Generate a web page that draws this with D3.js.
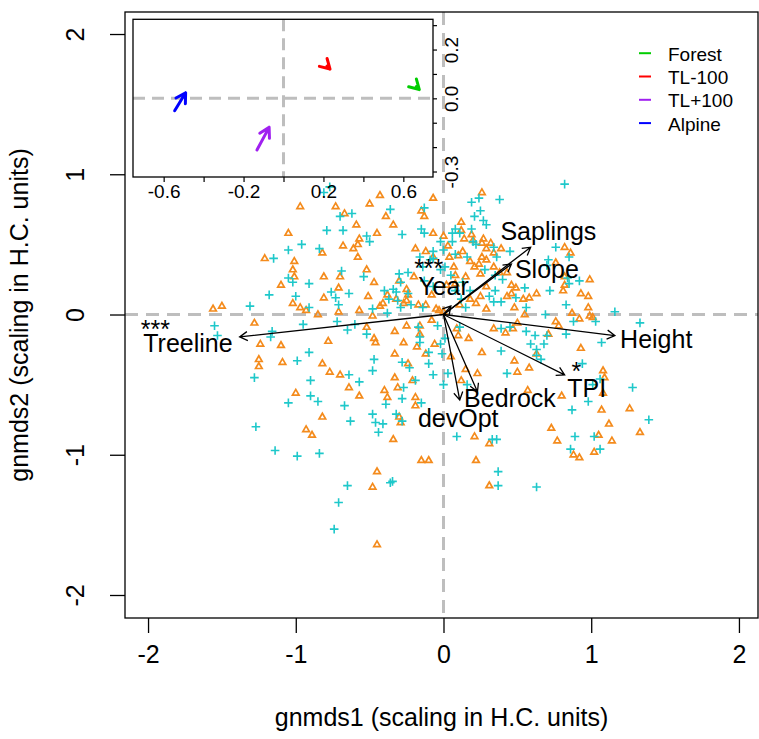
<!DOCTYPE html>
<html>
<head>
<meta charset="utf-8">
<script src="https://cdn.jsdelivr.net/npm/d3@7"></script>
<style>
  body { margin: 0; background: #fff; }
  svg text { font-family: "Liberation Sans", Arial, sans-serif; }
</style>
</head>
<body>
<svg id="chart"></svg>
<script>
let w = 759;
let h = 739;

// site scores drawn as "+"
let crossPts = [
  [-0.77,0.91],[-0.81,0.87],[-0.62,0.72],[-0.36,0.75],[-0.13,0.76],[-0.70,0.70],[-0.79,0.60],[-0.68,0.60],[-0.28,0.57],[-0.52,0.56],
  [-0.50,0.52],[-0.96,0.50],[-1.05,0.46],[-0.84,0.47],[-1.15,0.40],[-0.07,0.45],[-1.05,0.26],[-1.02,0.23],[-0.91,0.22],[-0.54,0.27],
  [-0.69,0.31],[-0.30,0.29],[-0.24,0.30],[-0.76,0.16],[-0.73,0.12],[-0.64,0.15],[-0.34,0.18],[-0.32,0.16],[-1.18,0.14],[-1.00,0.13],
  [-0.91,0.05],[-1.31,0.06],[-0.71,0.07],[-0.48,0.04],[-0.37,0.11],[-0.38,0.01],[-0.22,0.07],[-0.31,0.10],[-0.72,-0.05],[-0.65,-0.11],
  [-0.60,-0.07],[-0.52,-0.14],[-0.17,-0.09],[-0.95,-0.07],[-1.55,-0.08],[-1.53,-0.15],[-1.16,-0.12],[-1.17,-0.16],[-0.16,-0.20],[-0.02,-0.21],
  [-0.91,-0.27],[-0.99,-0.33],[-0.47,-0.32],[-0.28,-0.34],[-0.10,-0.35],[-0.01,-0.28],[-0.64,-0.43],[-0.48,-0.40],[-0.23,-0.38],[-1.28,-0.45],
  [-0.90,-0.47],[-0.57,-0.48],[-0.19,-0.47],[-0.07,-0.43],[-0.90,-0.58],[-0.85,-0.62],[-1.05,-0.63],[-0.27,-0.52],[-0.28,-0.60],[-0.15,-0.63],
  [-0.39,-0.64],[-0.67,-0.65],[-0.63,-0.76],[-0.48,-0.71],[-0.46,-0.77],[-0.41,-0.78],[-0.32,-0.71],[-0.28,-0.76],[-1.27,-0.80],[-0.44,-0.84],
  [-1.14,-0.97],[-0.99,-1.01],[-0.84,-0.99],[-0.65,-1.22],[-0.36,-1.20],[-0.345,-1.19],[-0.71,-1.34],[-0.74,-1.53],
  [-0.04,-0.08],[0.11,-0.09],[-0.16,-0.16],[0.01,-0.17],[-0.10,-0.27],[0.03,-0.42],[0.00,-0.50],[0.16,-0.50],[0.09,-0.87],[0.33,-0.89],
  [0.36,-0.89],[0.39,-0.26],[0.43,-0.42],[0.63,-0.25],[0.39,-0.10],[0.56,-0.12],[0.62,-0.15],[0.70,-0.15],[0.66,-0.32],
  [1.01,-0.50],[0.98,-0.62],[1.28,-0.52],[0.87,-0.68],[1.39,-0.75],[0.89,-0.87],[1.02,-0.87],[0.86,-0.96],[1.06,-0.96],[0.37,-1.12],
  [0.37,-1.22],[0.63,-1.23],
  [0.82,0.93],[0.38,0.82],[0.19,0.80],[0.25,0.74],[0.21,0.70],[0.27,0.67],[0.08,0.61],[0.11,0.58],[0.20,0.52],[0.06,0.52],
  [0.45,0.45],[0.76,0.48],[0.85,0.41],[0.71,0.39],[0.70,0.35],[0.92,0.24],[0.84,0.26],[0.85,0.22],[0.72,0.17],[0.83,0.07],
  [1.03,-0.05],[1.16,0.02],[1.33,-0.06],[0.69,0.00],[0.83,-0.14],[1.07,-0.20],[0.94,-0.35],[0.68,-0.21],[0.45,-0.09],[0.59,-0.21],
  [0.63,-0.29],[1.06,-0.46],[0.88,-0.05],
  [0.24,0.83],[0.29,0.64],[0.06,0.58],[0.19,0.61],[-0.15,0.61],[-0.13,0.58],[-0.02,0.52],[0.00,0.46],[0.22,0.50],[0.34,0.48],
  [0.36,0.41],[0.16,0.41],[0.08,0.43],[-0.07,0.40],[0.01,0.34],[0.05,0.28],[0.13,0.23],[0.28,0.32],[0.35,0.28],[0.40,0.25],
  [0.49,0.12],[0.55,0.19],[0.35,0.17],[0.31,0.13],[0.18,0.17],[0.12,0.11],[0.15,0.05],[0.08,0.17],[0.39,0.09],[0.34,0.09],
  [0.56,0.05],[-0.40,0.17],[-0.29,0.05],[-0.14,0.05],[-0.16,0.41],[-0.09,0.39],[-0.14,0.34],[-0.02,0.32],[-0.13,0.24],[-0.07,0.20],
  [-0.24,0.15],[-0.29,0.23]
];

// site scores drawn as triangles
let triPts = [
  [-0.43,0.85],[-0.07,0.83],[-0.97,0.77],[-0.73,0.77],[-0.50,0.79],[-0.67,0.72],[-0.39,0.70],[-0.15,0.74],[-0.13,0.70],[-0.34,0.64],
  [-0.59,0.64],[-0.45,0.58],[-1.05,0.58],[-0.57,0.54],[-0.58,0.50],[-0.82,0.44],[-0.68,0.49],[-0.61,0.47],[-0.58,0.41],[-1.21,0.40],
  [-1.01,0.38],[-0.19,0.47],[-0.12,0.45],[-0.07,0.41],[-1.02,0.32],[-1.01,0.27],[-1.10,0.21],[-0.81,0.27],[-0.70,0.27],[-0.52,0.32],
  [-0.47,0.23],[-0.30,0.24],[-0.71,0.19],[-0.81,0.12],[-0.51,0.13],[-0.38,0.14],[-0.25,0.18],[-0.24,0.14],[-1.02,0.08],[-0.97,0.05],
  [-0.93,0.03],[-1.56,0.04],[-1.50,0.06],[-0.71,0.02],[-0.85,0.00],[-0.57,0.03],[-0.43,0.06],[-0.41,0.08],[-0.27,0.08],[-0.17,0.07],
  [-0.48,-0.01],[-0.12,0.07],[-0.05,0.04],[-0.08,-0.04],[-0.52,-0.09],[-0.33,-0.12],[-0.25,-0.08],[-0.16,-0.14],[-1.28,-0.06],[-0.78,-0.19],
  [-0.47,-0.17],[-0.46,-0.20],[-0.27,-0.20],[-0.18,-0.23],[-0.06,-0.21],[-1.24,-0.21],[-1.10,-0.22],[-1.09,-0.34],[-1.25,-0.32],[-1.25,-0.37],
  [-0.82,-0.35],[-0.33,-0.28],[-0.24,-0.35],[-0.12,-0.28],[-0.77,-0.41],[-0.70,-0.43],[-0.64,-0.52],[-0.33,-0.45],[-0.21,-0.47],[-0.31,-0.52],
  [-1.00,-0.56],[-0.57,-0.58],[-0.40,-0.54],[-0.38,-0.59],[-0.19,-0.59],[-0.19,-0.65],[-0.82,-0.73],[-0.30,-0.73],[-0.29,-0.77],[-0.93,-0.82],
  [-0.89,-0.86],[-0.34,-0.89],[-0.15,-1.04],[-0.10,-1.04],[-0.45,-1.12],[-0.48,-1.23],[-0.45,-1.64],
  [-0.16,-0.08],[0.09,-0.10],[0.10,-0.15],[0.17,-0.17],[0.05,-0.30],[0.26,-0.27],[0.15,-0.39],[0.23,-0.42],[0.12,-0.47],[0.21,-0.87],
  [0.31,-0.92],[0.63,-0.28],[0.42,-0.13],[0.47,-0.10],[0.48,-0.33],[0.50,-0.41],[0.57,-0.54],
  [0.80,-0.58],[1.08,-0.56],[1.07,-0.68],[1.26,-0.67],[1.12,-0.78],[0.73,-0.81],[1.33,-0.84],[0.77,-0.90],[1.05,-0.86],[1.14,-0.90],
  [0.88,-1.00],[0.92,-1.02],[1.02,-0.98],[0.22,-1.04],[0.31,-1.22],
  [0.26,0.87],[0.12,0.66],[0.19,0.57],[0.14,0.54],[0.27,0.54],[0.32,0.51],[0.00,0.56],[0.39,0.47],[0.82,0.48],[0.86,0.44],
  [0.76,0.37],[0.99,0.25],[0.82,0.21],[0.81,0.17],[0.63,0.15],[0.58,0.12],[0.98,0.13],[0.98,0.05],[0.87,0.01],[0.99,-0.01],
  [1.01,-0.02],[0.55,0.00],[0.76,-0.05],[0.78,-0.08],[0.71,-0.14],[0.93,-0.24],[0.50,-0.06],[0.34,-0.10],[0.58,-0.38],[1.08,-0.40],
  [1.09,-0.45],[0.93,0.15],[0.92,-0.03],[0.82,0.27],
  [0.12,0.60],[-0.07,0.58],[0.03,0.49],[0.20,0.53],[0.26,0.51],[0.29,0.47],[0.34,0.44],[0.26,0.41],[0.24,0.36],[0.21,0.34],
  [0.18,0.38],[0.13,0.45],[0.10,0.42],[0.04,0.41],[0.07,0.34],[0.08,0.28],[0.15,0.27],[0.29,0.39],[0.25,0.29],[0.34,0.34],
  [0.38,0.30],[0.43,0.30],[0.46,0.21],[0.49,0.19],[0.46,0.15],[0.54,0.11],[0.43,0.13],[0.29,0.20],[0.25,0.13],[0.22,0.08],
  [0.18,0.11],[0.11,0.07],[0.08,0.22],[0.02,0.21],[0.48,0.05],[0.29,0.04],[-0.32,0.11],[-0.25,0.10],[0.00,0.02],[-0.03,0.03],
  [-0.20,0.27],[-0.08,0.14]
];

// fitted environmental vectors
let envNames = ["Treeline", "Height", "Saplings", "Slope", "Year", "TPI", "Bedrock", "devOpt"];
let envX = [-1.38, 1.16, 0.59, 0.46, 0.05, 0.82, 0.23, 0.11];
let envY = [-0.16, -0.15, 0.48, 0.36, 0.06, -0.43, -0.55, -0.61];
let envLabX = [-1.73, 1.44, 0.71, 0.70, 0.00, 0.97, 0.45, 0.10];
let envLabY = [-0.27, -0.24, 0.53, 0.26, 0.14, -0.59, -0.66, -0.80];
let envStars = ["***", "", "", "", "***", "*", "", ""];
let starX = [-1.95, 0, 0, 0, -0.10, 0.90, 0, 0];
let starY = [-0.165, 0, 0, 0, 0.265, -0.465, 0, 0];

// group shifts shown in the inset
let groups = ["Forest", "TL-100", "TL+100", "Alpine"];
let groupCol = ["#00CD00", "#FF0000", "#A020F0", "#0000FF"];
let shiftX0 = [0.665, 0.218, -0.133, -0.545];
let shiftY0 = [0.048, 0.132, -0.212, -0.051];
let shiftX1 = [0.680, 0.233, -0.072, -0.490];
let shiftY1 = [0.036, 0.120, -0.119, 0.023];

let xTicks = [-2, -1, 0, 1, 2];
let yTicks = [-2, -1, 0, 1, 2];
let inXTicks = [-0.6, -0.4, -0.2, 0, 0.2, 0.4, 0.6];
let inXLabels = [-0.6, -0.2, 0.2, 0.6];
let inYTicks = [-0.3, -0.2, -0.1, 0, 0.1, 0.2, 0.3];
let inYLabels = [0.2, 0, -0.3];

let cross = "#1EC8CA";
let orange = "#F48B1C";
let dashGrey = "#BEBEBE";

let svg = d3.select("#chart").attr("width", w).attr("height", h);

let xScale = d3.scaleLinear().domain([-2.156, 2.129]).range([125, 758]);
let yScale = d3.scaleLinear().domain([-2.164, 2.157]).range([618, 12]);

// arrow with two barbs, drawn in pixel space
function arrowPath(x0, y0, x1, y1, len) {
  let a = Math.atan2(y1 - y0, x1 - x0);
  let b1 = [x1 - len * Math.cos(a - Math.PI / 6), y1 - len * Math.sin(a - Math.PI / 6)];
  let b2 = [x1 - len * Math.cos(a + Math.PI / 6), y1 - len * Math.sin(a + Math.PI / 6)];
  return `M${x0},${y0}L${x1},${y1}M${b1[0]},${b1[1]}L${x1},${y1}L${b2[0]},${b2[1]}`;
}

// dashed zero lines
svg.append("line")
  .attr("x1", xScale(0)).attr("x2", xScale(0))
  .attr("y1", yScale.range()[1]).attr("y2", yScale.range()[0])
  .attr("stroke", dashGrey).attr("stroke-width", 3).attr("stroke-dasharray", "13,8");
svg.append("line")
  .attr("x1", xScale.range()[0]).attr("x2", xScale.range()[1])
  .attr("y1", yScale(0)).attr("y2", yScale(0))
  .attr("stroke", dashGrey).attr("stroke-width", 3).attr("stroke-dasharray", "13,8");

// points
svg.append("g").selectAll("path")
  .data(triPts)
  .enter()
  .append("path")
  .attr("transform", d => `translate(${xScale(d[0])},${yScale(d[1])})`)
  .attr("d", "M0,-3.6L3.3,2.1L-3.3,2.1Z")
  .attr("fill", "none")
  .attr("stroke", orange)
  .attr("stroke-width", 1.7);

svg.append("g").selectAll("path")
  .data(crossPts)
  .enter()
  .append("path")
  .attr("transform", d => `translate(${xScale(d[0])},${yScale(d[1])})`)
  .attr("d", "M-4.3,0H4.3M0,-4.3V4.3")
  .attr("stroke", cross)
  .attr("stroke-width", 1.6);

// vectors
svg.append("g").selectAll("path")
  .data(envNames)
  .enter()
  .append("path")
  .attr("d", (d, i) => arrowPath(xScale(0), yScale(0), xScale(envX[i]), yScale(envY[i]), 9))
  .attr("fill", "none")
  .attr("stroke", "black")
  .attr("stroke-width", 1.3);

svg.append("g").selectAll("text")
  .data(envNames)
  .enter()
  .append("text")
  .attr("x", (d, i) => xScale(envLabX[i]))
  .attr("y", (d, i) => yScale(envLabY[i]))
  .attr("text-anchor", "middle")
  .attr("font-size", 25)
  .text(d => d);

// significance marks
envStars.forEach((s, i) => {
  if (!s) return;
  svg.append("text")
    .attr("x", xScale(starX[i]))
    .attr("y", yScale(starY[i]))
    .attr("text-anchor", "middle")
    .attr("font-size", 25)
    .text(s);
});

// main box and axes
svg.append("rect")
  .attr("x", 125).attr("y", 12).attr("width", 633).attr("height", 606)
  .attr("fill", "none").attr("stroke", "black").attr("stroke-width", 1.3);

let xAxis = svg.append("g")
  .attr("transform", "translate(0,618)")
  .call(d3.axisBottom(xScale).tickValues(xTicks).tickSize(15).tickPadding(12).tickFormat(d => String(d)));
xAxis.select(".domain").remove();
xAxis.selectAll("line").attr("stroke-width", 1.3);
xAxis.selectAll("text").attr("font-size", 25).attr("font-family", null);

let yAxis = svg.append("g")
  .attr("transform", "translate(125,0)")
  .call(d3.axisLeft(yScale).tickValues(yTicks).tickSize(15).tickFormat(d => String(d)));
yAxis.select(".domain").remove();
yAxis.selectAll("line").attr("stroke-width", 1.3);
yAxis.selectAll("text")
  .attr("x", null).attr("dy", null)
  .attr("transform", "translate(-41,0) rotate(-90)")
  .attr("text-anchor", "middle")
  .attr("font-size", 25).attr("font-family", null);

svg.append("text")
  .attr("x", 441.5).attr("y", 726)
  .attr("text-anchor", "middle").attr("font-size", 25)
  .text("gnmds1 (scaling in H.C. units)");
svg.append("text")
  .attr("transform", "translate(28,315) rotate(-90)")
  .attr("text-anchor", "middle").attr("font-size", 25)
  .text("gnmds2 (scaling in H.C. units)");

// inset
let ixScale = d3.scaleLinear().domain([-0.7535, 0.7485]).range([133, 433]);
let iyScale = d3.scaleLinear().domain([-0.3225, 0.324]).range([177, 19.3]);

let inset = svg.append("g");
inset.append("rect")
  .attr("x", 133).attr("y", 19.3).attr("width", 300).attr("height", 157.7)
  .attr("fill", "white");
inset.append("line")
  .attr("x1", ixScale(0)).attr("x2", ixScale(0))
  .attr("y1", iyScale.range()[1]).attr("y2", iyScale.range()[0])
  .attr("stroke", dashGrey).attr("stroke-width", 3).attr("stroke-dasharray", "12,7");
inset.append("line")
  .attr("x1", ixScale.range()[0]).attr("x2", ixScale.range()[1])
  .attr("y1", iyScale(0)).attr("y2", iyScale(0))
  .attr("stroke", dashGrey).attr("stroke-width", 3).attr("stroke-dasharray", "12,7");

inset.selectAll("path.shift")
  .data(groups)
  .enter()
  .append("path")
  .attr("class", "shift")
  .attr("d", (d, i) => arrowPath(ixScale(shiftX0[i]), iyScale(shiftY0[i]), ixScale(shiftX1[i]), iyScale(shiftY1[i]), 11))
  .attr("fill", "none")
  .attr("stroke", (d, i) => groupCol[i])
  .attr("stroke-width", 3)
  .attr("stroke-linecap", "round")
  .attr("stroke-linejoin", "round");

inset.append("rect")
  .attr("x", 133).attr("y", 19.3).attr("width", 300).attr("height", 157.7)
  .attr("fill", "none").attr("stroke", "black").attr("stroke-width", 1.3);

let hasLabel = (arr, d) => arr.some(v => Math.abs(v - d) < 1e-9);

let ixAxis = inset.append("g")
  .attr("transform", "translate(0,177)")
  .call(d3.axisBottom(ixScale).tickValues(inXTicks).tickSize(5).tickPadding(3)
    .tickFormat(d => hasLabel(inXLabels, d) ? d.toFixed(1) : ""));
ixAxis.select(".domain").remove();
ixAxis.selectAll("line").attr("stroke-width", 1.2);
ixAxis.selectAll("text").attr("font-size", 19).attr("font-family", null);

let iyAxis = inset.append("g")
  .attr("transform", "translate(433,0)")
  .call(d3.axisRight(iyScale).tickValues(inYTicks).tickSize(4)
    .tickFormat(d => hasLabel(inYLabels, d) ? d.toFixed(1) : ""));
iyAxis.select(".domain").remove();
iyAxis.selectAll("line").attr("stroke-width", 1.2);
iyAxis.selectAll("text")
  .attr("x", null).attr("dy", null)
  .attr("transform", "translate(25,0) rotate(-90)")
  .attr("text-anchor", "middle")
  .attr("font-size", 19).attr("font-family", null);

// legend
let legend = svg.append("g");
groups.forEach((g, i) => {
  let y = 60.7 + i * 23.3;
  legend.append("line")
    .attr("x1", 639).attr("x2", 651)
    .attr("y1", y - 7.5).attr("y2", y - 7.5)
    .attr("stroke", groupCol[i]).attr("stroke-width", 2);
  legend.append("text")
    .attr("x", 668).attr("y", y)
    .attr("font-size", 19)
    .text(g);
});
</script>
</body>
</html>
